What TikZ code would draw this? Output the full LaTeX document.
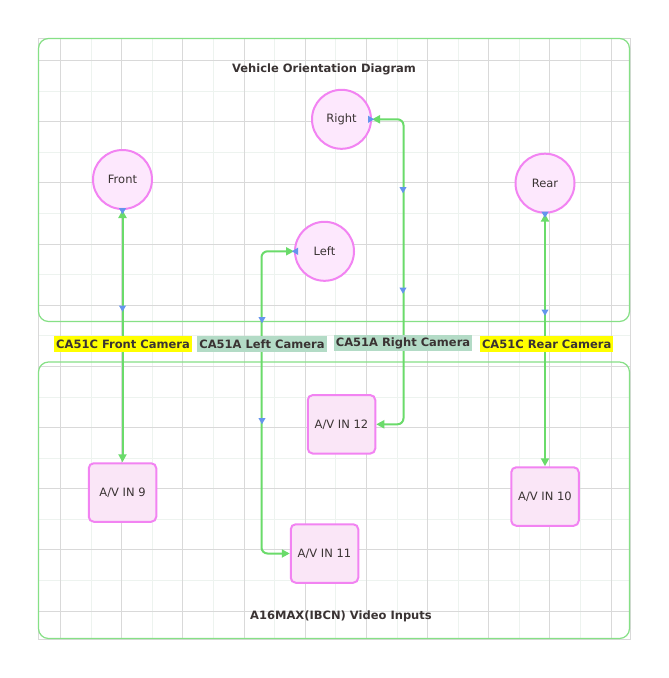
\documentclass[tikz,border=0pt]{standalone}
\usepackage{fontspec}
\setmainfont{DejaVu Sans}
\usetikzlibrary{arrows.meta}
\definecolor{gridd}{HTML}{D9D9D9}
\definecolor{gridl}{HTML}{EDF3EF}
\definecolor{clus}{HTML}{86E086}
\definecolor{edgec}{HTML}{6ADB6A}
\definecolor{bmk}{HTML}{6495ED}
\definecolor{nstroke}{HTML}{F283F2}
\definecolor{nfill}{HTML}{FDE8FD}
\definecolor{bfill}{HTML}{FAE6F7}
\definecolor{txt}{HTML}{3A3333}
\definecolor{ylw}{HTML}{FFFF00}
\definecolor{gg}{HTML}{B3DBC6}
\tikzset{
  nodefont/.style={font=\fontsize{11.5}{13}\selectfont},
  circ/.style={circle, draw=nstroke, fill=nfill, line width=2pt, minimum size=59pt, inner sep=0pt, text=txt, nodefont},
  avbox/.style={rectangle, rounded corners=5pt, draw=nstroke, fill=bfill, line width=2pt, minimum width=67.5pt, minimum height=58.5pt, inner sep=0pt, text=txt, nodefont},
  edge/.style={draw=edgec, line width=2pt, rounded corners=6pt, {Triangle[length=8pt,width=8pt]}-{Triangle[length=8pt,width=8pt]}},
  clusbox/.style={draw=clus, line width=1.2pt, rounded corners=10pt, inner sep=0pt},
  ttl/.style={font=\bfseries\fontsize{11.5}{13}\selectfont, text=txt},
  camlab/.style={font=\bfseries\fontsize{11.5}{13}\selectfont, text=txt, inner xsep=2pt, inner ysep=0pt, minimum height=16pt},
  bm/.pic={\fill[bmk] (3.2,0) -- (-3,3.6) -- (-3,-3.6) -- cycle;}
}
\begin{document}
\begin{tikzpicture}[x=1pt,y=-1pt]
\useasboundingbox (0,0) rectangle (669,678);
\fill[white] (0,0) rectangle (669,678);
% grid
\foreach \i in {0,...,8} {
  \draw[gridl, line width=1pt] ({91.1+61.18*\i},38) -- ++(0,601);
  \draw[gridl, line width=1pt] (38,{91.1+61.18*\i}) -- (630,{91.1+61.18*\i});
}
\foreach \i in {0,...,9} {
  \draw[gridd, line width=1pt] ({60.5+61.18*\i},38) -- ++(0,601);
  \draw[gridd, line width=1pt] (38,{60.5+61.18*\i}) -- (630,{60.5+61.18*\i});
}
\draw[gridd, line width=1pt] (38,38) rectangle (630,639);
% clusters
\node[clusbox, minimum width=591pt, minimum height=283pt] (vod) at (334,180) {};
\node[clusbox, minimum width=591pt, minimum height=276.5pt] (avi) at (334,500.25) {};
\node[ttl] (vodt) at (324,69) {Vehicle Orientation Diagram};
\node[ttl] (avit) at (341,616.5) {A16MAX(IBCN) Video Inputs};
% nodes
\node[circ] (front) at (122.5,179.5) {Front};
\node[circ] (right) at (341.5,119.3) {Right};
\node[circ] (left) at (324.5,251.3) {Left};
\node[circ] (rear) at (545,183.2) {Rear};
\node[avbox] (av9) at (122.5,492.5) {A/V IN 9};
\node[avbox] (av12) at (341.5,424.3) {A/V IN 12};
\node[avbox] (av11) at (324.5,553.5) {A/V IN 11};
\node[avbox] (av10) at (545,496.5) {A/V IN 10};
% edges
\draw[edge] (front.south) -- (av9.north);
\draw[edge] (left.west) -- ++(-32.5,0) |- (av11.west);
\draw[edge] (right.east) -- ++(31.5,0) |- (av12.east);
\draw[edge] (rear.south) -- (av10.north);
% direction markers
\pic[rotate=-90] at ([yshift=-1pt]front.south) {bm};
\pic[rotate=-90] at (122.5,308.5) {bm};
\pic[rotate=180] at ([xshift=1pt]left.west) {bm};
\pic[rotate=-90] at (262,320) {bm};
\pic[rotate=-90] at (262,421) {bm};
\pic at ([xshift=-1pt]right.east) {bm};
\pic[rotate=-90] at (403,190) {bm};
\pic[rotate=-90] at (403,290.5) {bm};
\pic[rotate=-90] at ([yshift=-1pt]rear.south) {bm};
\pic[rotate=-90] at (545,312.5) {bm};
% edge labels
\node[camlab, fill=ylw] (lf) at (123,344) {CA51C Front Camera};
\node[camlab, fill=gg] (ll) at (262,344) {CA51A Left Camera};
\node[camlab, fill=gg] (lr) at (403,343) {CA51A Right Camera};
\node[camlab, fill=ylw] (lb) at (546.7,344) {CA51C Rear Camera};
\end{tikzpicture}
\end{document}
